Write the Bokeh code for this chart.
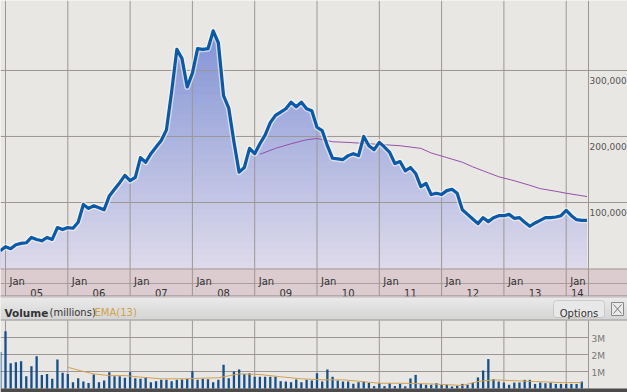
import numpy as np
from bokeh.plotting import figure
from bokeh.models import Range1d, BoxAnnotation, Label
from bokeh.core.properties import value
from bokeh.embed import file_html
from bokeh.resources import INLINE

# ---------------- data (monthly, first month = Dec 2004) ----------------
FIRST_MONTH_INDEX = -1   # months after Jan 2005
price_k = [27, 33, 30, 36, 38, 39, 47, 44, 42, 47, 44, 62, 59,
           62, 61, 70, 97, 91, 95, 92, 89, 110, 120, 130, 141,
           133, 138, 168, 161, 174, 184, 194, 210, 268, 332, 318, 275,
           296, 333, 332, 333, 360, 342, 262, 243, 192, 146, 153, 182,
           174, 189, 202, 221, 232, 237, 242, 252, 245, 252, 242, 239,
           214, 209, 186, 167, 166, 165, 171, 174, 171, 200, 186, 180,
           191, 184, 176, 159, 162, 148, 153, 144, 124, 129, 112, 114,
           112, 118, 120, 114, 89, 82, 75, 68, 77, 71, 77, 80,
           80, 82, 76, 77, 70, 64, 69, 73, 77, 77, 78, 80,
           88, 80, 74, 73, 73]
ema_months = [49, 52, 55, 58, 60, 63, 66, 70, 72, 76, 80, 82, 85, 88, 90,
              93, 95, 98, 101, 103, 106, 108, 112]
ema_k = [173, 182, 189, 195, 197, 192, 191, 189, 188, 186, 182, 175, 168, 161, 154,
         145, 139, 133, 126, 121, 117, 114, 109]
volume_m = [2.14, 3.37, 1.49, 1.55, 1.60, 0.72, 1.31, 1.90, 0.80, 0.86, 0.57, 1.70, 0.92,
            0.86, 0.37, 0.61, 0.41, 0.33, 0.82, 0.37, 0.47, 0.96, 0.72, 0.72, 0.63,
            0.96, 0.61, 0.57, 0.67, 0.37, 0.43, 0.51, 0.51, 0.43, 0.51, 0.53, 0.57,
            1.02, 0.51, 0.57, 0.55, 0.37, 0.51, 1.39, 0.61, 1.00, 1.12, 0.86, 0.90,
            0.69, 0.69, 0.69, 0.69, 0.69, 0.43, 0.41, 0.37, 0.53, 0.37, 0.51, 0.47,
            0.90, 0.41, 1.12, 0.69, 0.47, 0.41, 0.41, 0.28, 0.37, 0.41, 0.33, 0.14,
            0.31, 0.14, 0.31, 0.14, 0.28, 0.13, 0.59, 0.80, 0.27, 0.22, 0.22, 0.31,
            0.22, 0.22, 0.12, 0.16, 0.27, 0.22, 0.35, 0.65, 1.06, 1.73, 0.55, 0.41,
            0.35, 0.22, 0.35, 0.35, 0.51, 0.51, 0.27, 0.35, 0.31, 0.35, 0.27, 0.27,
            0.27, 0.27, 0.27, 0.41]
vol_ema_months = [12, 15, 17, 20, 23, 26, 30, 35, 38, 41, 45, 49, 53, 57, 61, 65,
                  68, 72, 76, 82, 88, 91, 94, 97, 102, 107, 111]
vol_ema_m = [1.25, 1.00, 0.86, 0.76, 0.76, 0.67, 0.57, 0.57, 0.61, 0.63, 0.86, 0.82,
             0.69, 0.57, 0.51, 0.51, 0.43, 0.31, 0.31, 0.27, 0.18, 0.41, 0.51, 0.47,
             0.41, 0.35, 0.35]
year_ticks = [2005, 2006, 2007, 2008, 2009, 2010, 2011, 2012, 2013, 2014]
year_labels = ["05", "06", "07", "08", "09", "10", "11", "12", "13", "14"]
price_ticks = [100000, 200000, 300000]
price_tick_labels = ["100,000", "200,000", "300,000"]
vol_ticks = [1, 2, 3]
vol_tick_labels = ["1M", "2M", "3M"]

# ---------------- layout constants (pixels of the 627x392 canvas) ----------------
W, H = 627, 392
PXY = 62.3                       # pixels per year
X0 = 2005 - 5 / PXY              # left edge
X1 = 2005 + 622 / PXY            # right edge
XB = 2005 + 583 / PXY            # right border of the plot areas
MAIN_BOTTOM = 268                # px (from top) of price 0
YTOP = 406000                    # price at px 0
VOL_ZERO, VOL_PX_PER_M = 388, 17
BG = "#e9e7e4"
GRID = "#9c9794"
BAND = "#dccbcf"
FONT = value("DejaVu Sans")


def mx(m):
    return 2005 + m / 12.0


def lerp(c0, c1, t):
    return "#%02x%02x%02x" % tuple(int(round(a + (b - a) * t)) for a, b in zip(c0, c1))


price_range = Range1d(-YTOP * (H - MAIN_BOTTOM) / MAIN_BOTTOM, YTOP)
vol_range = Range1d(-(H - VOL_ZERO) / VOL_PX_PER_M, VOL_ZERO / VOL_PX_PER_M)

p = figure(width=W, height=H, x_range=Range1d(X0, X1), y_range=price_range,
           output_backend="svg", toolbar_location=None,
           x_axis_location=None, y_axis_location=None, min_border=0,
           background_fill_color=BG, border_fill_color=BG, outline_line_color=None)
p.grid.visible = False
p.extra_y_ranges = {"px": Range1d(H, 0), "vol": vol_range}
p.extra_x_ranges = {"pxx": Range1d(0, W)}

# ---------------- main price chart ----------------
xs = np.array([mx(FIRST_MONTH_INDEX + i) for i in range(len(price_k))])
pv = np.array(price_k, dtype=float) * 1000
top_c, bot_c = (118, 138, 210), (222, 218, 235)
N = 40
for i in range(N, 0, -1):
    hi = YTOP * i / N
    col = lerp(bot_c, top_c, (i - 0.5) / N)
    p.varea(x=xs, y1=0, y2=np.minimum(pv, hi), fill_color=col, fill_alpha=1)

p.segment(x0=year_ticks, x1=year_ticks, y0=0, y1=YTOP, line_color=GRID, line_width=1)
p.segment(x0=X0, x1=X1, y0=price_ticks, y1=price_ticks, line_color=GRID, line_width=1)
p.segment(x0=[XB], x1=[XB], y0=0, y1=YTOP, line_color=GRID, line_width=1)

ex = [mx(m) for m in ema_months]
p.line(ex, np.array(ema_k) * 1000, line_color="#9650aa", line_width=1)
p.line(xs, pv, line_color="#fbf8ec", line_width=6, line_alpha=0.6, line_join="round")
p.line(xs, pv, line_color="#0a5aaa", line_width=3.2, line_join="round")
p.text(x=[XB] * 3, y=price_ticks, text=price_tick_labels, x_offset=1, y_offset=10,
       text_baseline="alphabetic", text_font=FONT, text_font_size="9px",
       text_color="#555555")

# ---------------- date band (268..296 px) ----------------
p.quad(left=X0, right=X1, top=268, bottom=296, fill_color=BAND, line_color=None,
       y_range_name="px")
p.segment(x0=X0, x1=X1, y0=[268.5, 283, 295.5], y1=[268.5, 283, 295.5],
          line_color=["#a09a9a", "#a89ea0", "#8e8688"], line_width=1, y_range_name="px")
p.segment(x0=year_ticks, x1=year_ticks, y0=268, y1=296, line_color=GRID, line_width=1,
          y_range_name="px")
p.segment(x0=[XB], x1=[XB], y0=268, y1=296, line_color=GRID, line_width=1,
          y_range_name="px")
p.text(x=year_ticks, y=280.5, text=["Jan"] * len(year_ticks), x_offset=4,
       text_baseline="alphabetic", text_font=FONT, text_font_size="10px",
       text_color="#333333", y_range_name="px")
ends = year_ticks[1:] + [XB]
centers = [(a + b) / 2 for a, b in zip(year_ticks, ends)]
p.text(x=centers, y=292.5, text=year_labels, text_align="center",
       text_baseline="alphabetic", text_font=FONT, text_font_size="10px",
       text_color="#333333", y_range_name="px")

# ---------------- volume header (296..320 px) ----------------
rows = np.arange(296, 320)
p.quad(left=0, right=W, top=rows, bottom=rows + 1,
       fill_color=[lerp((236, 236, 236), (206, 206, 206), (r - 296) / 23) for r in rows],
       line_color=None, x_range_name="pxx", y_range_name="px")
p.segment(x0=0, x1=W, y0=[296.5, 319.5], y1=[296.5, 319.5],
          line_color=["#bdb5b7", "#9a9a9a"], line_width=1,
          x_range_name="pxx", y_range_name="px")
p.text(x=[4], y=[312], text=["Volume"], text_font=FONT, text_font_size="10.5px",
       text_font_style="bold", text_color="#333333", text_baseline="alphabetic",
       x_range_name="pxx", y_range_name="px")
p.text(x=[49], y=[312], text=["(millions)"], text_font=FONT, text_font_size="10px",
       text_color="#333333", text_baseline="alphabetic",
       x_range_name="pxx", y_range_name="px")
p.text(x=[94], y=[312], text=["EMA(13)"], text_font=FONT, text_font_size="10px",
       text_color="#d0a24a", text_baseline="alphabetic",
       x_range_name="pxx", y_range_name="px")
p.quad(left=[611], right=[623], top=[302], bottom=[315], fill_color="#eaeaea",
       line_color="#8a8a8a", x_range_name="pxx", y_range_name="px")
p.segment(x0=[613, 621], x1=[621, 613], y0=[304, 304], y1=[313, 313],
          line_color="#777777", line_width=1, x_range_name="pxx", y_range_name="px")

# ---------------- volume panel (320..388 px) ----------------
p.segment(x0=year_ticks, x1=year_ticks, y0=0, y1=4, line_color=GRID, line_width=1,
          y_range_name="vol")
p.segment(x0=X0, x1=XB, y0=vol_ticks, y1=vol_ticks, line_color=GRID, line_width=1,
          y_range_name="vol")
p.segment(x0=[XB], x1=[XB], y0=0, y1=4, line_color=GRID, line_width=1,
          y_range_name="vol")
vx = [mx(FIRST_MONTH_INDEX + i) for i in range(len(volume_m))]
p.vbar(x=vx, top=volume_m, bottom=0, width=2.3 / PXY, fill_color="#154f8c",
       line_color=None, y_range_name="vol")
p.line([mx(m) for m in vol_ema_months], vol_ema_m, line_color="#d4a24e", line_width=1,
       y_range_name="vol")
p.quad(left=X0, right=X1, bottom=vol_range.start, top=0, fill_color="#4b4b4b",
       line_color=None, y_range_name="vol")
p.text(x=[XB] * 3, y=vol_ticks, text=vol_tick_labels, x_offset=3, y_offset=1,
       text_baseline="middle", text_font=FONT, text_font_size="9px",
       text_color="#777777", y_range_name="vol")

# Options button (annotations draw above glyphs)
p.add_layout(BoxAnnotation(left=553, right=604, top=300, bottom=317,
                           fill_color="#e8e8e8", fill_alpha=1,
                           line_color="#8a8a8a", line_width=1, border_radius=3,
                           x_range_name="pxx", y_range_name="px"))
p.add_layout(Label(x=578.5, y=312.5, text="Options", text_align="center",
                   text_font="DejaVu Sans", text_font_size="10px",
                   text_color="#333333", text_baseline="alphabetic",
                   x_range_name="pxx", y_range_name="px"))

open("out.html", "w").write(file_html(p, INLINE))
